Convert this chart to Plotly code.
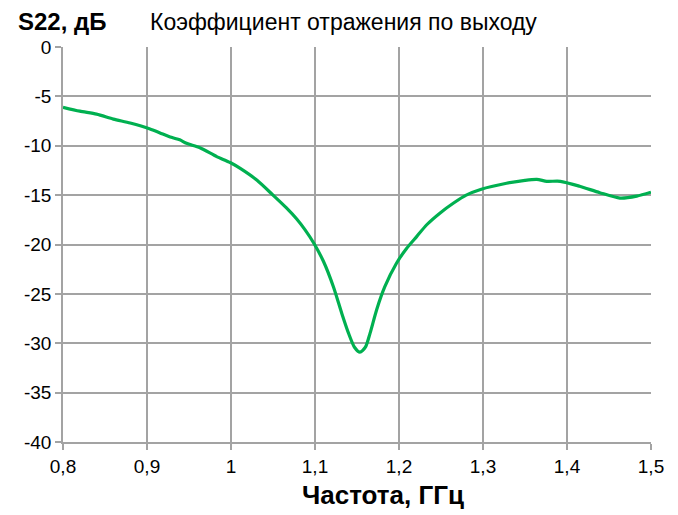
import plotly.graph_objects as go

freq_ghz = [0.80, 0.82, 0.84, 0.86, 0.88, 0.9036, 0.9155, 0.929, 0.939, 0.947, 0.963, 0.983, 0.999,
            1.011, 1.031, 1.050, 1.066, 1.078, 1.088, 1.0988, 1.11, 1.122, 1.132, 1.140, 1.147,
            1.1535, 1.160, 1.1655, 1.1734, 1.183, 1.197, 1.209, 1.221, 1.233, 1.249, 1.265,
            1.28, 1.298, 1.328, 1.35, 1.364, 1.376, 1.392, 1.415, 1.439, 1.463, 1.483, 1.50]
s22_db = [-6.1, -6.5, -6.8, -7.3, -7.7, -8.3, -8.7, -9.15, -9.4, -9.75, -10.2, -11.1, -11.7,
          -12.3, -13.5, -15.0, -16.3, -17.4, -18.5, -19.9, -21.7, -24.3, -27.0, -29.0, -30.4,
          -30.9, -30.4, -29.0, -26.6, -24.3, -21.9, -20.4, -19.2, -18.0, -16.8, -15.8,
          -15.0, -14.4, -13.8, -13.5, -13.4, -13.6, -13.6, -14.1, -14.75, -15.3, -15.1, -14.7]

x_ticks = [0.8, 0.9, 1.0, 1.1, 1.2, 1.3, 1.4, 1.5]
x_tick_labels = ["0,8", "0,9", "1", "1,1", "1,2", "1,3", "1,4", "1,5"]
y_ticks = [0, -5, -10, -15, -20, -25, -30, -35, -40]
y_tick_labels = ["0", "-5", "-10", "-15", "-20", "-25", "-30", "-35", "-40"]

FONT = "Liberation Sans, Arial, sans-serif"
GRID = "#a3a3a3"

fig = go.Figure()
fig.add_trace(go.Scatter(x=freq_ghz, y=s22_db, mode="lines",
                         line=dict(color="#00B050", width=3.2, shape="spline", smoothing=0.7),
                         showlegend=False, hoverinfo="skip"))

# page body has an 8px default margin, so the figure is sized to fit the 678x515 window
fig.update_layout(
    width=670, height=507,
    margin=dict(l=55, r=27, t=39, b=73),
    paper_bgcolor="white", plot_bgcolor="white",
    font=dict(family=FONT, size=19, color="black"),
    xaxis=dict(range=[0.8, 1.5], tickvals=x_ticks, ticktext=x_tick_labels,
               showgrid=True, gridcolor=GRID, gridwidth=1.5,
               showline=True, linecolor=GRID, linewidth=1.5,
               ticks="outside", ticklen=6, tickcolor=GRID, tickwidth=1.5,
               tickfont=dict(family=FONT, size=19), zeroline=False, automargin=False),
    yaxis=dict(range=[-40, 0], tickvals=y_ticks, ticktext=y_tick_labels,
               showgrid=True, gridcolor=GRID, gridwidth=1.5,
               showline=True, linecolor=GRID, linewidth=1.5,
               ticks="outside", ticklen=6, tickcolor=GRID, tickwidth=1.5,
               tickfont=dict(family=FONT, size=19), zeroline=False, automargin=False),
    annotations=[
        dict(text="<b>S22, дБ</b>", x=-0.08, y=1.0, xref="paper", yref="paper",
             xanchor="left", yanchor="middle", yshift=26, showarrow=False,
             font=dict(family=FONT, size=24)),
        dict(text="Коэффициент отражения по выходу", x=0.145, y=1.0, xref="paper", yref="paper",
             xanchor="left", yanchor="middle", yshift=25, showarrow=False,
             font=dict(family=FONT, size=23)),
        dict(text="<b>Частота, ГГц</b>", x=0.544, y=0, xref="paper", yref="paper",
             xanchor="center", yanchor="middle", yshift=-53, showarrow=False,
             font=dict(family=FONT, size=26)),
    ],
)
fig.write_html("out.html")
